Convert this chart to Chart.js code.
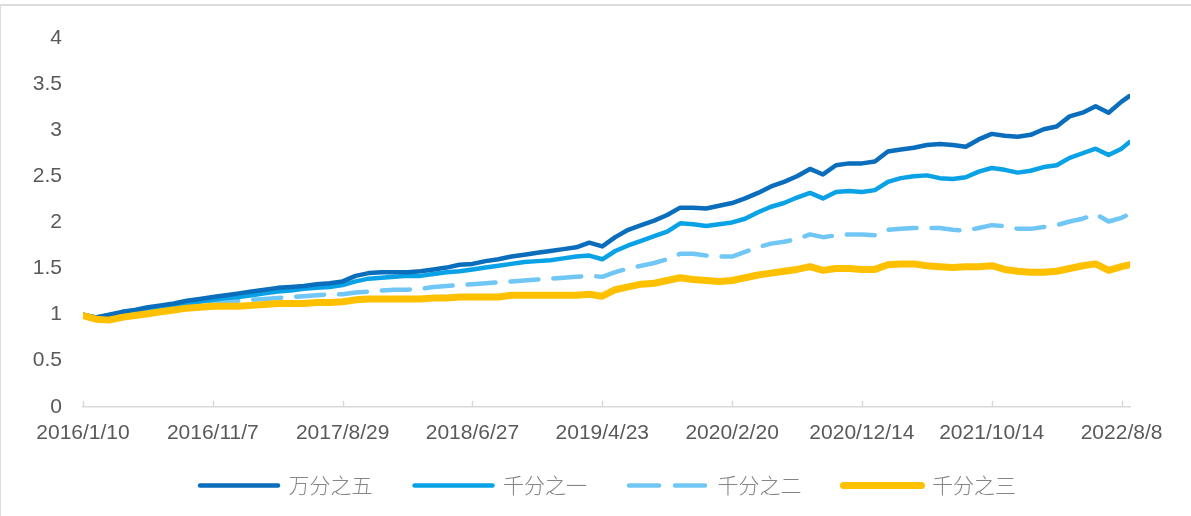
<!DOCTYPE html>
<html>
<head>
<meta charset="utf-8">
<script src="https://cdn.jsdelivr.net/npm/chart.js@4.4.1/dist/chart.umd.min.js"></script>
<style>
  html, body { margin: 0; padding: 0; background: #fff; }
  #wrap { position: relative; width: 1191px; height: 516px; }
  #frame { position: absolute; left: 0; top: 4px; right: 0; bottom: 0; border-top: 2px solid #dcdcdc; border-left: 1px solid #dcdcdc; pointer-events: none; }
</style>
</head>
<body>
<div id="wrap">
  <canvas id="linechart" width="1191" height="516"></canvas>
  <div id="frame"></div>
</div>
<script>
// trading-day index of each x tick and its date label
const tickIndex = [0, 200, 400, 600, 800, 1000, 1200, 1400, 1600];
const dateLabels = [
  "2016/1/10", "2016/11/7", "2017/8/29", "2018/6/27", "2019/4/23",
  "2020/2/20", "2020/12/14", "2021/10/14", "2022/8/8",
];
const seriesNames = ["万分之五", "千分之一", "千分之二", "千分之三"];

// net value read every 20 trading days, last value at day 1612
const sampleStep = 20;
const lastDay = 1612;

const wan5 = [
  1.00, 0.97, 1.00, 1.03, 1.05, 1.08, 1.10, 1.12, 1.15, 1.17,
  1.19, 1.21, 1.23, 1.25, 1.27, 1.29, 1.30, 1.31, 1.33, 1.34,
  1.36, 1.42, 1.45, 1.46, 1.46, 1.46, 1.47, 1.49, 1.51, 1.54,
  1.55, 1.58, 1.60, 1.63, 1.65, 1.67, 1.69, 1.71, 1.73, 1.78,
  1.74, 1.84, 1.92, 1.97, 2.02, 2.08, 2.16, 2.16, 2.15, 2.18,
  2.21, 2.26, 2.32, 2.39, 2.44, 2.50, 2.58, 2.52, 2.62, 2.64,
  2.64, 2.66, 2.77, 2.79, 2.81, 2.84, 2.85, 2.84, 2.82, 2.90,
  2.96, 2.94, 2.93, 2.95, 3.01, 3.04, 3.15, 3.19, 3.26, 3.19,
  3.31, 3.37,
];
const qian1 = [
  1.00, 0.97, 0.99, 1.02, 1.04, 1.06, 1.08, 1.10, 1.12, 1.14,
  1.16, 1.18, 1.19, 1.21, 1.23, 1.25, 1.26, 1.28, 1.29, 1.30,
  1.32, 1.36, 1.39, 1.40, 1.41, 1.42, 1.42, 1.44, 1.46, 1.47,
  1.49, 1.51, 1.53, 1.55, 1.57, 1.58, 1.59, 1.61, 1.63, 1.64,
  1.60, 1.69, 1.75, 1.80, 1.85, 1.90, 1.99, 1.98, 1.96, 1.98,
  2.00, 2.04, 2.11, 2.17, 2.21, 2.27, 2.32, 2.26, 2.33, 2.34,
  2.33, 2.35, 2.44, 2.48, 2.50, 2.51, 2.48, 2.47, 2.49, 2.55,
  2.59, 2.57, 2.54, 2.56, 2.60, 2.62, 2.70, 2.75, 2.80, 2.73,
  2.80, 2.87,
];
const qian2 = [
  1.00, 0.96, 0.98, 1.01, 1.03, 1.05, 1.07, 1.09, 1.10, 1.12,
  1.13, 1.14, 1.15, 1.16, 1.17, 1.18, 1.19, 1.20, 1.21, 1.22,
  1.22, 1.24, 1.25, 1.26, 1.27, 1.27, 1.28, 1.30, 1.31, 1.32,
  1.33, 1.34, 1.35, 1.36, 1.37, 1.38, 1.39, 1.40, 1.41, 1.42,
  1.41, 1.46, 1.50, 1.53, 1.56, 1.60, 1.66, 1.66, 1.64, 1.63,
  1.63, 1.68, 1.73, 1.77, 1.79, 1.82, 1.87, 1.84, 1.86, 1.87,
  1.87, 1.86, 1.92, 1.93, 1.94, 1.94, 1.94, 1.92, 1.91, 1.94,
  1.97, 1.96, 1.93, 1.93, 1.95, 1.97, 2.01, 2.04, 2.09, 2.01,
  2.05, 2.09,
];
const qian3 = [
  0.99, 0.95, 0.94, 0.97, 0.99, 1.01, 1.03, 1.05, 1.07, 1.08,
  1.09, 1.09, 1.09, 1.10, 1.11, 1.12, 1.12, 1.12, 1.13, 1.13,
  1.14, 1.16, 1.17, 1.17, 1.17, 1.17, 1.17, 1.18, 1.18, 1.19,
  1.19, 1.19, 1.19, 1.21, 1.21, 1.21, 1.21, 1.21, 1.21, 1.22,
  1.20, 1.27, 1.30, 1.33, 1.34, 1.37, 1.40, 1.38, 1.37, 1.36,
  1.37, 1.40, 1.43, 1.45, 1.47, 1.49, 1.52, 1.48, 1.50, 1.50,
  1.49, 1.49, 1.54, 1.55, 1.55, 1.53, 1.52, 1.51, 1.52, 1.52,
  1.53, 1.49, 1.47, 1.46, 1.46, 1.47, 1.50, 1.53, 1.55, 1.48,
  1.52, 1.54,
];

function toPoints(values) {
  return values.map((v, i) => ({
    x: i === values.length - 1 ? lastDay : i * sampleStep,
    y: v,
  }));
}

const axisGray = "#d9d9d9";
const labelGray = "#595959";

// small tick marks pointing up from the x axis line
const upTicks = {
  id: "upTicks",
  afterDraw(chart) {
    const xs = chart.scales.x;
    const ctx = chart.ctx;
    const y = chart.chartArea.bottom;
    ctx.save();
    ctx.strokeStyle = axisGray;
    ctx.lineWidth = 1.5;
    tickIndex.forEach((v) => {
      const px = Math.round(xs.getPixelForValue(v)) + 0.5;
      ctx.beginPath();
      ctx.moveTo(px, y);
      ctx.lineTo(px, y - 6);
      ctx.stroke();
    });
    ctx.restore();
  },
};

// legend is shorter than chart.js makes it, and sits a bit right
const legendNudge = {
  id: "legendNudge",
  beforeLayout(chart) {
    const lg = chart.legend;
    if (lg && !lg._shrunk) {
      const fit = lg.fit;
      lg.fit = function () {
        fit.call(this);
        this.height -= 17;
      };
      lg._shrunk = true;
    }
  },
  afterLayout(chart) {
    const lg = chart.legend;
    if (!lg) return;
    lg.top -= 27;
    lg.left += 43;
    lg.right += 43;
  },
};

const lctx = document.getElementById("linechart");

new Chart(lctx, {
  type: "line",
  data: {
    datasets: [
      {
        label: seriesNames[0],
        data: toPoints(wan5),
        borderColor: "#0a6ebd",
        backgroundColor: "#0a6ebd",
        borderWidth: 4.5,
        order: 1,
      },
      {
        label: seriesNames[1],
        data: toPoints(qian1),
        borderColor: "#0aa2e6",
        backgroundColor: "#0aa2e6",
        borderWidth: 4.5,
        order: 2,
      },
      {
        label: seriesNames[2],
        data: toPoints(qian2),
        borderColor: "#70c6f5",
        backgroundColor: "#70c6f5",
        borderWidth: 4.5,
        borderDash: [28, 15],
        order: 3,
      },
      {
        label: seriesNames[3],
        data: toPoints(qian3),
        borderColor: "#ffc000",
        backgroundColor: "#ffc000",
        borderWidth: 7,
        order: 0,
      },
    ],
  },
  options: {
    responsive: false,
    animation: false,
    parsing: false,
    elements: {
      point: { radius: 0 },
      line: { tension: 0, borderCapStyle: "round", borderJoinStyle: "round" },
    },
    layout: { padding: { left: 0, right: 61, top: 38, bottom: 0 } },
    plugins: {
      tooltip: { enabled: false },
      legend: {
        position: "bottom",
        labels: {
          usePointStyle: true,
          pointStyle: "line",
          pointStyleWidth: 78,
          boxWidth: 78,
          padding: 42,
          color: "#858585",
          font: { family: "'Noto Sans CJK SC'", size: 21, weight: 300 },
          sort: (a, b) => a.datasetIndex - b.datasetIndex,
          generateLabels(chart) {
            const items = Chart.defaults.plugins.legend.labels.generateLabels(chart);
            return items.map((item) => {
              const ds = chart.data.datasets[item.datasetIndex];
              item.lineWidth = ds.borderWidth;
              item.lineDash = ds.borderDash ? [30, 16] : [];
              item.lineCap = "round";
              return item;
            });
          },
        },
      },
    },
    scales: {
      x: {
        type: "linear",
        min: 0,
        max: 1613,
        grid: { display: false, drawTicks: false },
        border: { display: true, color: axisGray, width: 1.5 },
        afterBuildTicks(scale) {
          scale.ticks = tickIndex.map((v) => ({ value: v }));
        },
        ticks: {
          autoSkip: false,
          maxRotation: 0,
          padding: 14,
          color: labelGray,
          font: { family: "'Liberation Sans'", size: 21 },
          callback(value) {
            return dateLabels[tickIndex.indexOf(value)];
          },
        },
      },
      y: {
        min: 0,
        max: 4,
        afterFit(scale) {
          scale.width = 83;
        },
        grid: { display: false, drawTicks: false },
        border: { display: false },
        ticks: {
          stepSize: 0.5,
          padding: 21,
          color: labelGray,
          font: { family: "'Liberation Sans'", size: 21 },
          callback(value) {
            return String(value);
          },
        },
      },
    },
  },
  plugins: [upTicks, legendNudge],
});
</script>
</body>
</html>
